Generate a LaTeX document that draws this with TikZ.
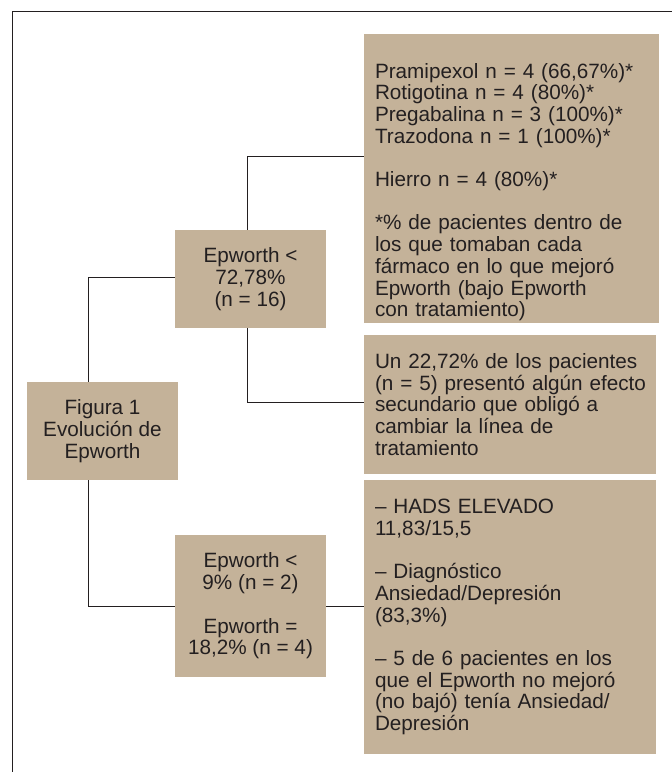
\documentclass[tikz,border=0pt]{standalone}
\usepackage{fontspec}
\setmainfont{Liberation Sans}
\usetikzlibrary{positioning}

\definecolor{boxtan}{RGB}{196,178,153}
\definecolor{inkgray}{RGB}{35,31,32}

\begin{document}
\begin{tikzpicture}[x=1pt, y=-1pt,
    tanbox/.style={fill=boxtan, text=inkgray, inner sep=0pt,
      font=\fontsize{20.7}{21.7}\selectfont},
    midbox/.style={tanbox, align=center, minimum width=151, minimum height=#1},
    sidebox/.style={tanbox, align=left, inner xsep=11, text width=#1},
    link/.style={line width=0.9pt, inkgray}]
  \useasboundingbox (0,0) rectangle (672,772);

  % frame (top and left edges only)
  \draw[link] (672,11) -- (12,11) -- (12,772);

  % tree boxes
  \node[midbox=98] (figura) at (102.5,431) {Figura 1\\Evolución de\\Epworth};
  \node[midbox=98] (epalto) at (250.5,279) {Epworth <\\72,78\%\\(n = 16)};
  \node[midbox=142] (epbajo) at (250.5,606)
    {Epworth <\\9\% (n = 2)\\[\baselineskip]Epworth =\\18,2\% (n = 4)};

  % side notes
  \node[sidebox=273, minimum height=289] (farmacos) at (511.5,178.5)
    {\rule{0pt}{42pt}Pramipexol n = 4 (66,67\%)*\\
     Rotigotina n = 4 (80\%)*\\
     Pregabalina n = 3 (100\%)*\\
     Trazodona n = 1 (100\%)*\\[\baselineskip]
     Hierro n = 4 (80\%)*\\[\baselineskip]
     *\% de pacientes dentro de\\
     los que tomaban cada\\
     fármaco en lo que mejoró\\
     Epworth (bajo Epworth\\
     con tratamiento)};
  \node[sidebox=270, minimum height=139] (efecto) at (510,404.5)
    {Un 22,72\% de los pacientes\\
     \mbox{(n = 5) presentó algún efecto}\\
     secundario que obligó a\\
     cambiar la línea de\\
     tratamiento};
  \node[sidebox=270, minimum height=274] (hads) at (510,617)
    {– HADS ELEVADO\\
     11,83/15,5\\[\baselineskip]
     – Diagnóstico\\
     Ansiedad/Depresión\\
     (83,3\%)\\[\baselineskip]
     – 5 de 6 pacientes en los\\
     que el Epworth no mejoró\\
     (no bajó) tenía Ansiedad/\\
     Depresión};

  % connectors
  \draw[link] ([xshift=-14.5]figura.north) |- ([yshift=2]epalto.west);
  \draw[link] ([xshift=-14.5]figura.south) |- (epbajo.west);
  \draw[link] ([xshift=-3.5]epalto.north) |- ([yshift=22.5]farmacos.west);
  \draw[link] ([xshift=-3.5]epalto.south) |- ([yshift=2.5]efecto.west);
  \draw[link] (epbajo.east) -- (epbajo.east -| hads.west);
\end{tikzpicture}
\end{document}
